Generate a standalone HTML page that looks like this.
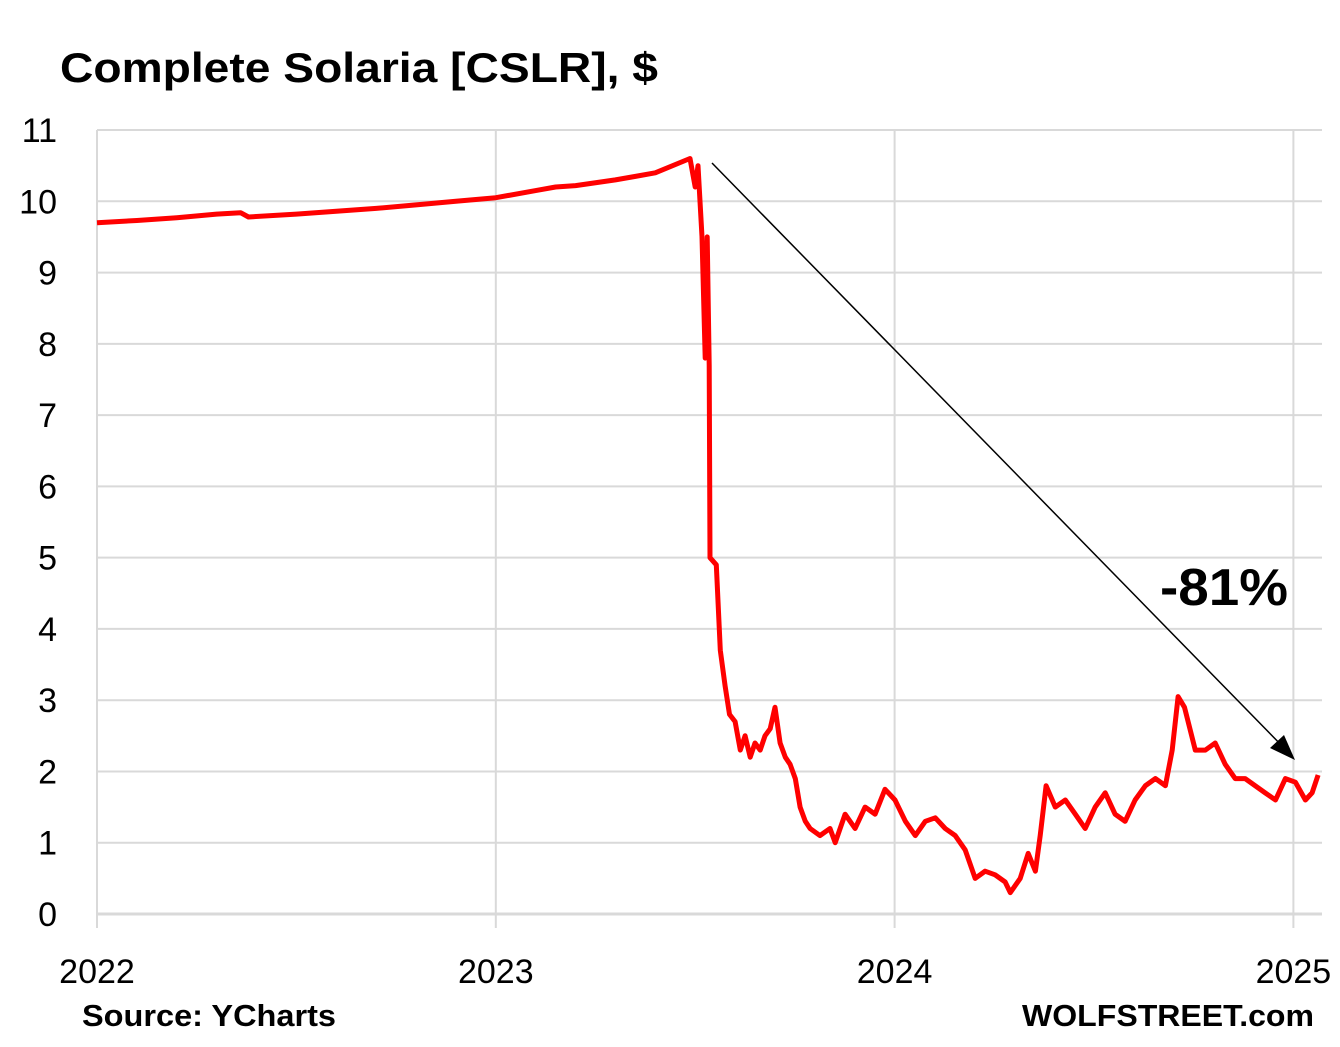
<!DOCTYPE html>
<html><head><meta charset="utf-8"><style>
body{margin:0;background:#fff;font-family:"Liberation Sans",sans-serif}
svg text{font-family:"Liberation Sans",sans-serif}
</style></head><body>
<svg id="chart" width="1340" height="1042" viewBox="0 0 1340 1042" xmlns="http://www.w3.org/2000/svg">
<rect width="1340" height="1042" fill="#fff"/>
<text x="60" y="82" font-size="42" font-weight="bold" fill="#000" textLength="598" lengthAdjust="spacingAndGlyphs">Complete Solaria [CSLR], $</text>
<g id="grid"></g>
<g id="axes"></g>
<path id="line" fill="none" stroke="#ff0000" stroke-width="5" stroke-linejoin="round"/>
<line x1="712" y1="163" x2="1290" y2="754" stroke="#000" stroke-width="1.5"/>
<path d="M1295,760 L1270,748 L1284,735 z" fill="#000"/>
<text x="1160" y="605" font-size="52" font-weight="bold" fill="#000" textLength="128" lengthAdjust="spacingAndGlyphs">-81%</text>
<text x="82" y="1026" font-size="31" font-weight="bold" fill="#000" textLength="254" lengthAdjust="spacingAndGlyphs">Source: YCharts</text>
<text x="1022" y="1026" font-size="31" font-weight="bold" fill="#000" textLength="292" lengthAdjust="spacingAndGlyphs">WOLFSTREET.com</text>
</svg>
<script>
const yTicks=[0,1,2,3,4,5,6,7,8,9,10,11];
const xTicks=[2022,2023,2024,2025];
const dates=[0,0.1,0.2,0.3,0.36,0.38,0.5,0.6,0.7,0.8,0.9,1.0,1.1,1.15,1.2,1.3,1.35,1.4,1.487,1.5,1.507,1.517,1.525,1.53,1.535,1.537,1.553,1.563,1.575,1.586,1.6,1.613,1.625,1.638,1.65,1.663,1.675,1.688,1.7,1.713,1.726,1.738,1.751,1.763,1.776,1.788,1.813,1.838,1.851,1.876,1.901,1.926,1.951,1.976,2.001,2.027,2.052,2.077,2.102,2.127,2.152,2.177,2.202,2.227,2.252,2.277,2.29,2.315,2.335,2.353,2.365,2.38,2.403,2.428,2.453,2.478,2.503,2.528,2.553,2.578,2.603,2.629,2.654,2.679,2.696,2.711,2.727,2.754,2.779,2.804,2.829,2.854,2.879,2.904,2.929,2.955,2.98,3.005,3.03,3.047,3.062];
const prices=[9.7,9.73,9.77,9.82,9.84,9.78,9.82,9.86,9.9,9.95,10.0,10.05,10.15,10.2,10.22,10.3,10.35,10.4,10.6,10.2,10.5,9.5,7.8,9.5,7.7,5.0,4.9,3.7,3.2,2.8,2.7,2.3,2.5,2.2,2.4,2.3,2.5,2.6,2.9,2.4,2.2,2.1,1.9,1.5,1.3,1.2,1.1,1.2,1.0,1.4,1.2,1.5,1.4,1.75,1.6,1.3,1.1,1.3,1.35,1.2,1.1,0.9,0.5,0.6,0.55,0.45,0.3,0.5,0.85,0.6,1.1,1.8,1.5,1.6,1.4,1.2,1.5,1.7,1.4,1.3,1.6,1.8,1.9,1.8,2.3,3.05,2.9,2.3,2.3,2.4,2.1,1.9,1.9,1.8,1.7,1.6,1.9,1.85,1.6,1.7,1.95];
const X=v=>97+(v-2022)*398.8;
const Y=v=>914-v*71.27;
const ns="http://www.w3.org/2000/svg";
const grid=document.getElementById('grid'),axes=document.getElementById('axes');
yTicks.forEach(t=>{
 const l=document.createElementNS(ns,'line');
 l.setAttribute('x1',97);l.setAttribute('x2',1322);l.setAttribute('y1',Y(t));l.setAttribute('y2',Y(t));
 l.setAttribute('stroke','#d9d9d9');l.setAttribute('stroke-width',t===0?3:2);
 
 
 grid.appendChild(l);
 const tx=document.createElementNS(ns,'text');
 tx.setAttribute('x',57);tx.setAttribute('y',Y(t)+12);tx.setAttribute('text-anchor','end');tx.setAttribute('font-size','34');
 tx.textContent=t;
 
 
 axes.appendChild(tx);
});
xTicks.forEach(t=>{
 const l=document.createElementNS(ns,'line');
 l.setAttribute('x1',X(t));l.setAttribute('x2',X(t));l.setAttribute('y1',130);l.setAttribute('y2',928);
 l.setAttribute('stroke','#d9d9d9');l.setAttribute('stroke-width',2);
 
 
 grid.appendChild(l);
 const tx=document.createElementNS(ns,'text');
 tx.setAttribute('x',X(t));tx.setAttribute('y',983);tx.setAttribute('text-anchor','middle');tx.setAttribute('font-size','34');
 tx.textContent=t;
 
 
 axes.appendChild(tx);
});
document.getElementById('line').setAttribute('d',dates.map((d,i)=>(i?'L':'M')+X(2022+d).toFixed(1)+','+Y(prices[i]).toFixed(1)).join(' '));
</script>
</body></html>
